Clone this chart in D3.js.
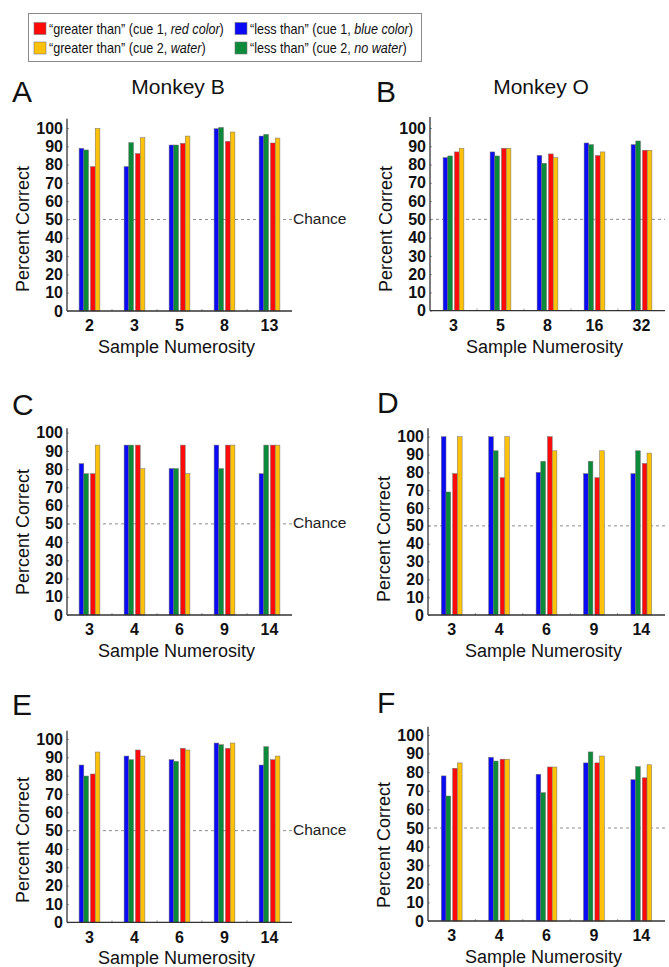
<!DOCTYPE html>
<html>
<head>
<meta charset="utf-8">
<style>
  body { margin: 0; background: #fff; }
  svg { display: block; font-family: "Liberation Sans", Arial, sans-serif; }
</style>
</head>
<body>
<div id="chart"></div>
<script src="https://d3js.org/d3.v7.min.js"></script>
<script>
// series order inside each group: blue, green, red, yellow
const seriesKeys = ["less1", "less2", "greater1", "greater2"];
const seriesColors = ["#0a0af5", "#0b8a3a", "#ff0a0a", "#ffc20a"];

// legend entries (column 1: red, yellow; column 2: blue, green)
const legendRows = [
  [{ color: "#ff0a0a", pre: "\u201cgreater than\u201d (cue 1, ", it: "red color", post: ")" },
   { color: "#0a0af5", pre: "\u201cless than\u201d (cue 1, ", it: "blue color", post: ")" }],
  [{ color: "#ffc20a", pre: "\u201cgreater than\u201d (cue 2, ", it: "water", post: ")" },
   { color: "#0b8a3a", pre: "\u201cless than\u201d (cue 2, ", it: "no water", post: ")" }]
];

const yTicks = [0, 10, 20, 30, 40, 50, 60, 70, 80, 90, 100];
const chanceLevel = 50;

// Panel A - Monkey B
const numA = [2, 3, 5, 8, 13];
const blueA = [88.9, 78.9, 90.7, 99.6, 95.6];
const greenA = [88, 92, 90.7, 100.3, 96.5];
const redA = [78.9, 86, 91.6, 92.7, 91.8];
const yellowA = [99.8, 94.7, 95.6, 97.8, 94.5];

// Panel B - Monkey O
const numB = [3, 5, 8, 16, 32];
const blueB = [83.8, 86.9, 85, 91.8, 90.9];
const greenB = [84.7, 84.7, 80.7, 90.9, 92.9];
const redB = [86.9, 88.9, 85.8, 84.9, 87.8];
const yellowB = [88.9, 88.9, 83.8, 86.9, 87.8];

// Panel C
const numC = [3, 4, 6, 9, 14];
const blueC = [83, 93.2, 80.3, 93.2, 77.5];
const greenC = [77.5, 93.2, 80.3, 80.3, 93.2];
const redC = [77.5, 93.2, 93.2, 93.2, 93.2];
const yellowC = [93.2, 80.3, 77.5, 93.2, 93.2];

// Panel D
const numD = [3, 4, 6, 9, 14];
const blueD = [100, 100, 80, 79.3, 79.3];
const greenD = [69, 92.1, 86.2, 86.2, 92.1];
const redD = [79.3, 77, 100, 77, 85];
const yellowD = [100, 100, 92.1, 92.1, 90.8];

// Panel E
const numE = [3, 4, 6, 9, 14];
const blueE = [85.8, 90.7, 88.7, 97.8, 85.8];
const greenE = [79.8, 88.7, 87.8, 96.9, 95.8];
const redE = [80.9, 94, 94.9, 94.9, 88.7];
const yellowE = [92.9, 90.7, 94, 97.8, 90.7];

// Panel F
const numF = [3, 4, 6, 9, 14];
const blueF = [78, 88, 78.9, 85, 76];
const greenF = [67.2, 86, 69, 90.9, 83];
const redF = [82.1, 87, 82.8, 85, 77];
const yellowF = [85, 87, 82.8, 88.7, 84];

// layout of each panel on the page (pixels)
const panels = [
  { letter: "A", title: "Monkey B", nums: numA, vals: [blueA, greenA, redA, yellowA],
    x0: 67, x1: 292, y0: 311, y100: 128, top: 105, lx: 12, ly: 102, tx: 178, ty: 94, py: 229, chance: true },
  { letter: "B", title: "Monkey O", nums: numB, vals: [blueB, greenB, redB, yellowB],
    x0: 430, x1: 665, y0: 310.7, y100: 128, top: 106, lx: 376, ly: 102, tx: 541, ty: 94, py: 229, chance: false },
  { letter: "C", title: null, nums: numC, vals: [blueC, greenC, redC, yellowC],
    x0: 67, x1: 292, y0: 615, y100: 432.7, top: 102.5, lx: 12, ly: 415, py: 532, chance: true },
  { letter: "D", title: null, nums: numD, vals: [blueD, greenD, redD, yellowD],
    x0: 428, x1: 665, y0: 615, y100: 436.7, top: 104.7, lx: 377, ly: 413, py: 539, chance: false },
  { letter: "E", title: null, nums: numE, vals: [blueE, greenE, redE, yellowE],
    x0: 67, x1: 292, y0: 922.3, y100: 739, top: 104.5, lx: 12, ly: 715, py: 840, chance: true },
  { letter: "F", title: null, nums: numF, vals: [blueF, greenF, redF, yellowF],
    x0: 428, x1: 665, y0: 921, y100: 735, top: 104.5, lx: 377, ly: 713, py: 845, chance: false }
];

const W = 669, H = 967;
const barW = 4.7, gap = 2;

const svg = d3.select("#chart").append("svg")
  .attr("width", W).attr("height", H);

// legend
const leg = svg.append("g");
leg.append("rect")
  .attr("x", 28.5).attr("y", 13.5).attr("width", 393).attr("height", 48)
  .attr("fill", "#fff").attr("stroke", "#8a8a8a").attr("stroke-width", 1);
const colX = [34, 235];
const rowY = [22.5, 42];
legendRows.forEach((row, r) => {
  row.forEach((e, c) => {
    leg.append("rect")
      .attr("x", colX[c]).attr("y", rowY[r]).attr("width", 12).attr("height", 12)
      .attr("fill", e.color).attr("stroke", "#777").attr("stroke-width", 0.6);
    const t = leg.append("text")
      .attr("transform", `translate(${colX[c] + 15},${rowY[r] + 11}) scale(0.9,1)`)
      .attr("font-size", 14).attr("fill", "#111");
    t.append("tspan").text(e.pre);
    t.append("tspan").attr("font-style", "italic").text(e.it);
    t.append("tspan").text(e.post);
  });
});

panels.forEach(p => {
  const g = svg.append("g");

  const x = d3.scaleBand().domain(p.nums).range([p.x0, p.x1]);
  const y = d3.scaleLinear().domain([0, 100]).range([p.y0, p.y100]);
  const sub = d3.scaleBand().domain(seriesKeys).range([0, 4 * barW]);

  // panel letter and title
  g.append("text").attr("x", p.lx).attr("y", p.ly)
    .attr("font-size", 30).attr("fill", "#111").text(p.letter);
  if (p.title) {
    g.append("text").attr("x", p.tx).attr("y", p.ty).attr("text-anchor", "middle")
      .attr("font-size", 21).attr("fill", "#111").text(p.title);
  }

  // chance line
  g.append("line")
    .attr("x1", p.x0).attr("x2", p.x1)
    .attr("y1", y(chanceLevel)).attr("y2", y(chanceLevel))
    .attr("stroke", "#8c8c8c").attr("stroke-width", 1)
    .attr("stroke-dasharray", "3,3");
  if (p.chance) {
    g.append("text").attr("x", p.x1 + 1).attr("y", y(chanceLevel))
      .attr("dominant-baseline", "middle")
      .attr("font-size", 15.5).attr("fill", "#222").text("Chance");
  }

  // bars
  const rows = [];
  p.nums.forEach((n, i) => {
    seriesKeys.forEach((k, s) => rows.push({ n: n, key: k, s: s, v: p.vals[s][i] }));
  });
  g.selectAll("rect.bar").data(rows).enter().append("rect")
    .attr("class", "bar")
    .attr("x", d => x(d.n) + x.bandwidth() / 2 - (4 * barW + gap) / 2 + sub(d.key) + (d.s >= 2 ? gap : 0))
    .attr("width", sub.bandwidth())
    .attr("y", d => y(d.v))
    .attr("height", d => y(0) - y(d.v))
    .attr("fill", d => seriesColors[d.s])
    .attr("stroke", "#6e6e6e").attr("stroke-width", 0.5);

  // y axis
  const yAxis = d3.axisLeft(y).tickValues(yTicks).tickSize(-2).tickSizeOuter(0).tickPadding(4);
  const ya = g.append("g").attr("transform", `translate(${p.x0},0)`).call(yAxis);
  ya.select(".domain").remove();
  ya.selectAll(".tick line").attr("stroke", "#999");
  ya.selectAll(".tick text").attr("font-size", 16).attr("font-weight", "bold")
    .attr("fill", "#111").attr("font-family", "'Liberation Sans', Arial, sans-serif");
  g.append("line").attr("x1", p.x0).attr("x2", p.x0)
    .attr("y1", y(0)).attr("y2", y(p.top))
    .attr("stroke", "#333").attr("stroke-width", 1.3);

  // x axis
  const xAxis = d3.axisBottom(x).tickSize(0).tickPadding(9);
  const xa = g.append("g").attr("transform", `translate(0,${p.y0})`).call(xAxis);
  xa.select(".domain").remove();
  xa.selectAll(".tick text").attr("font-size", 16).attr("font-weight", "bold")
    .attr("fill", "#111").attr("font-family", "'Liberation Sans', Arial, sans-serif");
  g.selectAll("line.sep").data(p.nums.slice(1)).enter().append("line")
    .attr("class", "sep")
    .attr("x1", d => x(d)).attr("x2", d => x(d))
    .attr("y1", p.y0).attr("y2", p.y0 - 2)
    .attr("stroke", "#999");
  g.append("line").attr("x1", p.x0).attr("x2", p.x1)
    .attr("y1", p.y0).attr("y2", p.y0)
    .attr("stroke", "#333").attr("stroke-width", 1.3);

  // axis titles
  g.append("text")
    .attr("x", (p.x0 + p.x1) / 2 - 3).attr("y", p.y0 + 42)
    .attr("text-anchor", "middle").attr("font-size", 18).attr("fill", "#111")
    .text("Sample Numerosity");
  g.append("text")
    .attr("transform", `translate(${p.x0 - 38},${p.py}) rotate(-90)`)
    .attr("text-anchor", "middle").attr("font-size", 18).attr("fill", "#111")
    .text("Percent Correct");
});
</script>
</body>
</html>
